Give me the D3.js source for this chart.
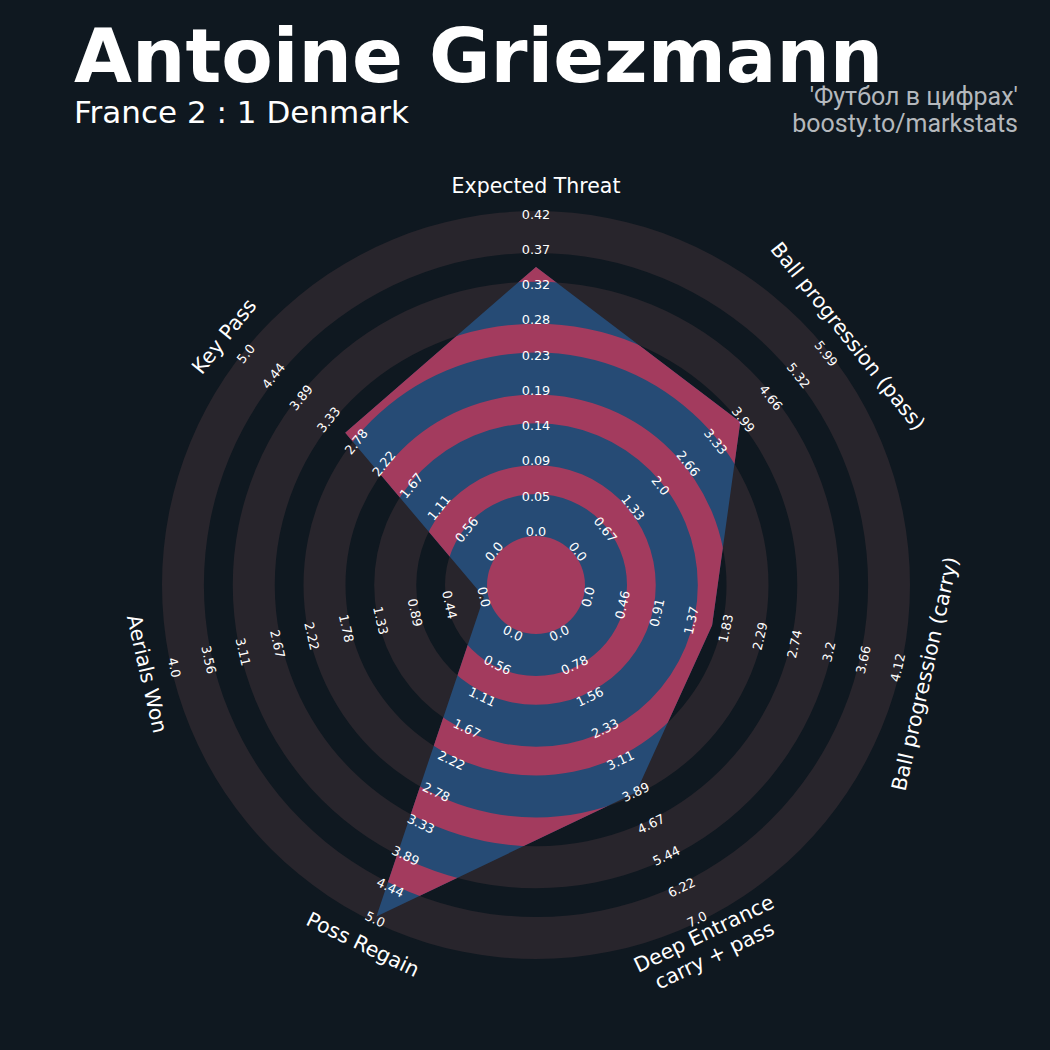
<!DOCTYPE html>
<meta charset="utf-8">
<style>
body { margin: 0; background: #0f1820; }
svg text { font-family: "DejaVu Sans", sans-serif; fill: #ffffff; }
.credit { font-family: Roboto, sans-serif; fill: #b4b8bd; }
</style>
<svg width="1050" height="1050"></svg>
<script src="https://d3js.org/d3.v7.min.js"></script>
<script>
// chart data
var params = ["Expected Threat", "Ball progression (pass)", "Ball progression (carry)",
              "Deep Entrance\ncarry + pass", "Poss Regain", "Aerials Won", "Key Pass"];
var lows   = [0, 0, 0, 0, 0, 0, 0];
var highs  = [0.42, 5.99, 4.12, 7.0, 5.0, 4.0, 5.0];
var values = [0.35, 3.92, 1.65, 3.9, 4.95, 0, 3.0];
var tickLabels = [
  ["0.0", "0.05", "0.09", "0.14", "0.19", "0.23", "0.28", "0.32", "0.37", "0.42"],
  ["0.0", "0.67", "1.33", "2.0", "2.66", "3.33", "3.99", "4.66", "5.32", "5.99"],
  ["0.0", "0.46", "0.91", "1.37", "1.83", "2.29", "2.74", "3.2", "3.66", "4.12"],
  ["0.0", "0.78", "1.56", "2.33", "3.11", "3.89", "4.67", "5.44", "6.22", "7.0"],
  ["0.0", "0.56", "1.11", "1.67", "2.22", "2.78", "3.33", "3.89", "4.44", "5.0"],
  ["0.0", "0.44", "0.89", "1.33", "1.78", "2.22", "2.67", "3.11", "3.56", "4.0"],
  ["0.0", "0.56", "1.11", "1.67", "2.22", "2.78", "3.33", "3.89", "4.44", "5.0"]
];

var svg = d3.select("svg"),
    width = +svg.attr("width"),
    height = +svg.attr("height");
var cx = 536, cy = 585;
var centerR = 49, ringW = 42, gapW = 28.75, numRings = 5;

svg.append("rect").attr("width", width).attr("height", height).attr("fill", "#0f1820");

var n = params.length;
var angle = function(i) { return i * 2 * Math.PI / n; };
var scales = params.map(function(p, i) {
  return d3.scaleLinear().domain([lows[i], highs[i]]).range([53.5, 371]);
});

// ring bands
var greyBands = [], innerBands = [[0, centerR]];
d3.range(numRings).forEach(function(k) {
  var r0 = centerR + k * (ringW + gapW);
  greyBands.push([r0, r0 + ringW]);
  if (k < numRings - 1) innerBands.push([r0 + ringW, r0 + ringW + gapW]);
});

var arc = d3.arc().startAngle(0).endAngle(2 * Math.PI);
var g = svg.append("g").attr("transform", "translate(" + cx + "," + cy + ")");

g.append("g").selectAll("path")
  .data(greyBands)
  .enter().append("path")
  .attr("d", function(d) { return arc({innerRadius: d[0], outerRadius: d[1]}); })
  .attr("fill", "#28252c");

var radial = d3.lineRadial()
  .angle(function(d, i) { return angle(i); })
  .radius(function(d, i) { return scales[i](d); })
  .curve(d3.curveLinearClosed);

g.append("clipPath").attr("id", "radarClip")
  .append("path").attr("d", radial(values));

g.append("path")
  .attr("d", radial(values))
  .attr("fill", "#264b75");

g.append("g").attr("clip-path", "url(#radarClip)")
  .selectAll("path")
  .data(innerBands)
  .enter().append("path")
  .attr("d", function(d) { return arc({innerRadius: d[0], outerRadius: d[1]}); })
  .attr("fill", "#a33b5e");

function rot(i) {
  var a = angle(i) * 180 / Math.PI;
  if (a > 90 && a < 270) return a - 180;
  if (a >= 270) return a - 360;
  return a;
}
function pos(i, r) {
  return [r * Math.sin(angle(i)), -r * Math.cos(angle(i))];
}

// tick labels
params.forEach(function(p, i) {
  var vals = d3.range(10).map(function(k) { return lows[i] + k * (highs[i] - lows[i]) / 9; });
  g.append("g").selectAll("text")
    .data(vals)
    .enter().append("text")
    .attr("transform", function(v) {
      var xy = pos(i, scales[i](v));
      return "translate(" + xy[0] + "," + xy[1] + ") rotate(" + rot(i) + ")";
    })
    .attr("text-anchor", "middle")
    .attr("dominant-baseline", "central")
    .style("font-size", "12.8px")
    .text(function(v, k) { return tickLabels[i][k]; });
});

// param labels
params.forEach(function(p, i) {
  var xy = pos(i, 399);
  var lines = p.split("\n");
  var t = g.append("text")
    .attr("transform", "translate(" + xy[0] + "," + xy[1] + ") rotate(" + rot(i) + ")")
    .attr("text-anchor", "middle")
    .attr("dominant-baseline", "central")
    .style("font-size", "20.5px");
  lines.forEach(function(l, j) {
    t.append("tspan")
      .attr("x", 0)
      .attr("y", (j - (lines.length - 1) / 2) * 24)
      .text(l);
  });
});

// titles
svg.append("text").attr("x", 74).attr("y", 82)
  .style("font-size", "75px").style("font-weight", "bold")
  .text("Antoine Griezmann");
svg.append("text").attr("x", 74).attr("y", 123)
  .style("font-size", "31px")
  .text("France 2 : 1 Denmark");
svg.append("text").attr("class", "credit").attr("x", 1018).attr("y", 105)
  .attr("text-anchor", "end").style("font-size", "25px")
  .text("'Футбол в цифрах'");
svg.append("text").attr("class", "credit").attr("x", 1018).attr("y", 132)
  .attr("text-anchor", "end").style("font-size", "25px")
  .text("boosty.to/markstats");
</script>
